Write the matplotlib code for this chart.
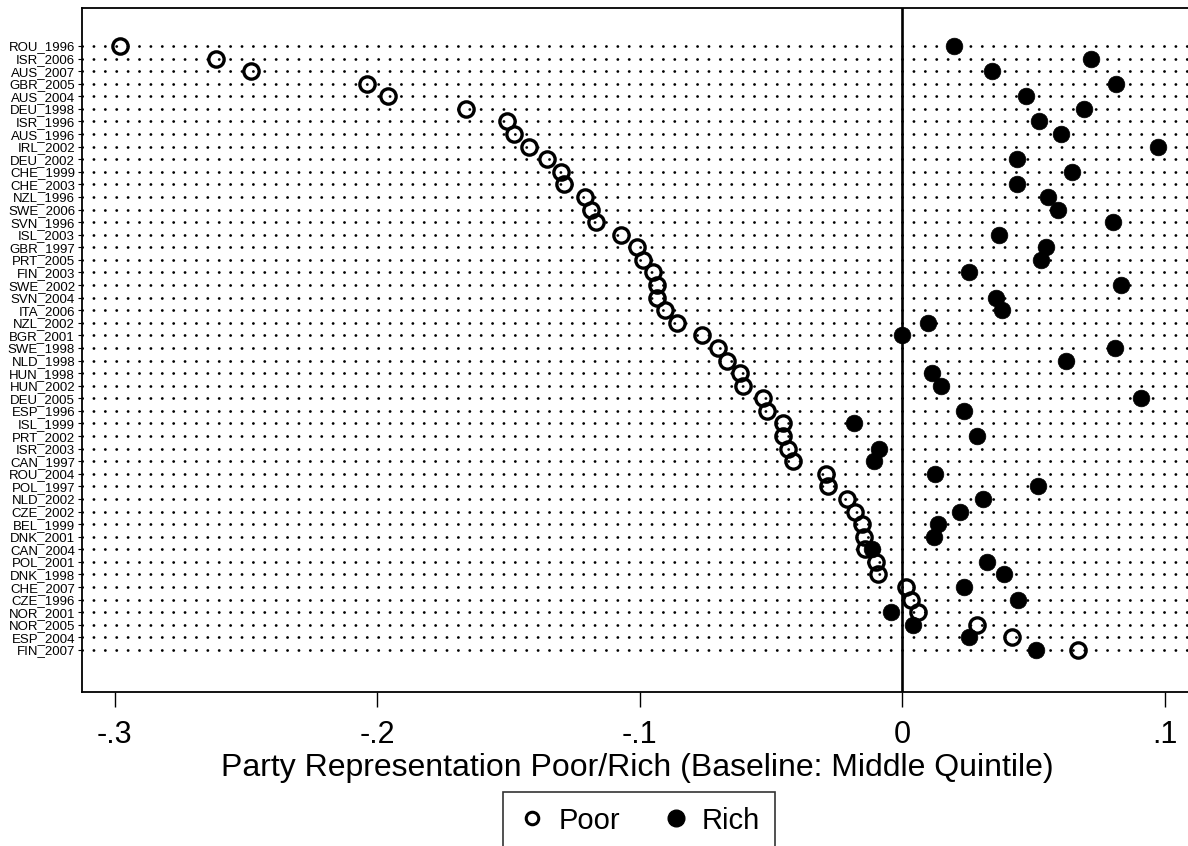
import matplotlib
matplotlib.use("Agg")
import matplotlib.pyplot as plt
from matplotlib.lines import Line2D

plt.rcParams['font.family'] = ['Liberation Sans', 'DejaVu Sans']

countries = ["ROU_1996", "ISR_2006", "AUS_2007", "GBR_2005", "AUS_2004", "DEU_1998",
             "ISR_1996", "AUS_1996", "IRL_2002", "DEU_2002", "CHE_1999", "CHE_2003",
             "NZL_1996", "SWE_2006", "SVN_1996", "ISL_2003", "GBR_1997", "PRT_2005",
             "FIN_2003", "SWE_2002", "SVN_2004", "ITA_2006", "NZL_2002", "BGR_2001",
             "SWE_1998", "NLD_1998", "HUN_1998", "HUN_2002", "DEU_2005", "ESP_1996",
             "ISL_1999", "PRT_2002", "ISR_2003", "CAN_1997", "ROU_2004", "POL_1997",
             "NLD_2002", "CZE_2002", "BEL_1999", "DNK_2001", "CAN_2004", "POL_2001",
             "DNK_1998", "CHE_2007", "CZE_1996", "NOR_2001", "NOR_2005", "ESP_2004",
             "FIN_2007"]

poor = [-0.2979, -0.2613, -0.2481, -0.2037, -0.1957, -0.1662,
        -0.1506, -0.1478, -0.1422, -0.1354, -0.1299, -0.1286,
        -0.1208, -0.1186, -0.1167, -0.1070, -0.1008, -0.0985,
        -0.0947, -0.0935, -0.0935, -0.0903, -0.0858, -0.0761,
        -0.0700, -0.0665, -0.0617, -0.0605, -0.0531, -0.0513,
        -0.0455, -0.0452, -0.0436, -0.0417, -0.0290, -0.0281,
        -0.0208, -0.0179, -0.0154, -0.0144, -0.0141, -0.0099,
        -0.0090, 0.0014, 0.0034, 0.0062, 0.0286, 0.0420,
        0.0672]

rich = [0.0198, 0.0719, 0.0343, 0.0815, 0.0471, 0.0692,
        0.0521, 0.0606, 0.0976, 0.0437, 0.0646, 0.0437,
        0.0556, 0.0593, 0.0803, 0.0370, 0.0547, 0.0530,
        0.0257, 0.0833, 0.0358, 0.0382, 0.0098, 0.0000,
        0.0810, 0.0624, 0.0116, 0.0147, 0.0912, 0.0236,
        -0.0182, 0.0287, -0.0086, -0.0105, 0.0126, 0.0519,
        0.0310, 0.0221, 0.0137, 0.0122, -0.0114, 0.0323,
        0.0390, 0.0236, 0.0441, -0.0042, 0.0041, 0.0257,
        0.0509]

xticks = [-0.3, -0.2, -0.1, 0.0, 0.1]
xticklabels = ["-.3", "-.2", "-.1", "0", ".1"]
xlabel = "Party Representation Poor/Rich (Baseline: Middle Quintile)"

W, H = 1188, 846
fig = plt.figure(figsize=(W / 100, H / 100), dpi=100)
left, right, top, bottom = 82, 1192, 8, 692
ax = fig.add_axes([left / W, 1 - bottom / H, (right - left) / W, (bottom - top) / H])

ypos = list(range(len(countries)))

ax.yaxis.grid(True, linestyle=(0, (0.05, 4.05)), linewidth=2.0, color='black')
for gl in ax.get_ygridlines():
    gl.set_dash_capstyle('round')
ax.xaxis.grid(False)
ax.set_axisbelow(True)

ax.axvline(0, color='black', lw=1.9, zorder=2)

ax.plot(poor, ypos, linestyle='none', marker='o', markersize=11,
        markerfacecolor='none', markeredgecolor='black', markeredgewidth=2.4, zorder=3)
ax.plot(rich, ypos, linestyle='none', marker='o', markersize=12,
        markerfacecolor='black', markeredgecolor='black', markeredgewidth=0.5, zorder=4)

px_per_unit = 2625.0
ax.set_xlim((left - 902) / px_per_unit, (right - 902) / px_per_unit)
row_px = (650 - 46) / 48
ax.set_ylim(48 + (bottom - 650) / row_px, -(46 - top) / row_px)

ax.set_yticks(ypos)
ax.set_yticklabels(countries)
ax.tick_params(axis='y', direction='out', length=3, width=0.8, pad=2, labelsize=9.5)
ax.set_xticks(xticks)
ax.set_xticklabels(xticklabels)
ax.tick_params(axis='x', direction='out', length=11, width=1.0, pad=9, labelsize=22)
ax.set_xlabel(xlabel, fontsize=23, labelpad=2)

for s in ax.spines.values():
    s.set_linewidth(1.3)
    s.set_color('black')

handles = [Line2D([], [], linestyle='none', marker='o', markersize=9,
                  markerfacecolor='none', markeredgecolor='black', markeredgewidth=2.2),
           Line2D([], [], linestyle='none', marker='o', markersize=12,
                  markerfacecolor='black', markeredgecolor='black')]
leg = fig.legend(handles, ["Poor", "Rich"], loc='upper center',
                 bbox_to_anchor=(639 / W, 1 - 792 / H), ncol=2, borderaxespad=0,
                 fontsize=21, frameon=True, fancybox=False, edgecolor='black',
                 handletextpad=0.4, columnspacing=1.4, borderpad=0.5, handlelength=1.0)
leg.get_frame().set_linewidth(1.2)

fig.savefig("out.png", dpi=100, facecolor='white')
